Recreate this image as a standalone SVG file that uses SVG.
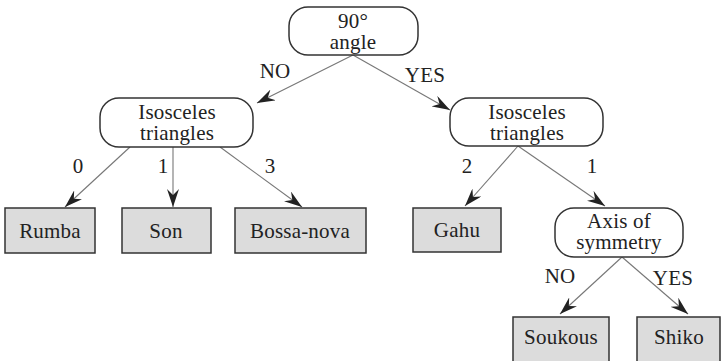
<svg xmlns="http://www.w3.org/2000/svg" width="725" height="361" viewBox="0 0 725 361">
<style>
text{font-family:"Liberation Serif","Times New Roman",serif;font-size:21px;fill:#222;text-anchor:middle;letter-spacing:0.2px}
.dec{fill:#fff;stroke:#333;stroke-width:1.5}
.leaf{fill:#dcdcdc;stroke:#333;stroke-width:1.5}
.edge{stroke:#777;stroke-width:1.1;fill:none;marker-end:url(#ah)}
</style>
<defs>
<marker id="ah" viewBox="0 0 18 12" markerWidth="18" markerHeight="12" markerUnits="userSpaceOnUse" refX="18" refY="6" orient="auto">
<path d="M0,0 L18,6 L0,12 L6,6 z" fill="#222"/>
</marker>
</defs>
<rect width="725" height="361" fill="#fff"/>
<g id="connectors">
<line class="edge" x1="353" y1="55" x2="257" y2="103"/>
<line class="edge" x1="353" y1="55" x2="450" y2="110"/>
<line class="edge" x1="130" y1="147" x2="65" y2="207"/>
<line class="edge" x1="173" y1="147" x2="173" y2="207"/>
<line class="edge" x1="220" y1="147" x2="302" y2="207"/>
<line class="edge" x1="518" y1="146" x2="465" y2="206"/>
<line class="edge" x1="518" y1="146" x2="605" y2="206"/>
<line class="edge" x1="622" y1="257" x2="560" y2="314"/>
<line class="edge" x1="622" y1="257" x2="688" y2="314"/>
<text x="275" y="78">NO</text>
<text x="425" y="82">YES</text>
<text x="78" y="173">0</text>
<text x="163" y="173">1</text>
<text x="270" y="173">3</text>
<text x="467" y="173">2</text>
<text x="592" y="173">1</text>
<text x="560" y="283">NO</text>
<text x="673" y="285">YES</text>
</g>
<g id="n-angle">
<rect class="dec" x="289" y="7" width="129" height="48" rx="19"/>
<text x="353" y="28">90°</text>
<text x="353" y="49">angle</text>
</g>
<g id="n-iso-left">
<rect class="dec" x="100" y="98" width="153" height="49" rx="19"/>
<text x="177" y="119">Isosceles</text>
<text x="177" y="140">triangles</text>
</g>
<g id="n-iso-right">
<rect class="dec" x="450" y="98" width="153" height="48" rx="19"/>
<text x="527" y="119">Isosceles</text>
<text x="527" y="140">triangles</text>
</g>
<g id="n-axis">
<rect class="dec" x="555" y="208" width="128" height="49" rx="19"/>
<text x="619" y="228">Axis of</text>
<text x="619" y="249">symmetry</text>
</g>
<g id="n-rumba">
<rect class="leaf" x="5" y="208" width="90" height="45"/>
<text x="50" y="238">Rumba</text>
</g>
<g id="n-son">
<rect class="leaf" x="122" y="208" width="89" height="45"/>
<text x="166" y="238">Son</text>
</g>
<g id="n-bossa">
<rect class="leaf" x="235" y="208" width="131" height="45"/>
<text x="300" y="238">Bossa-nova</text>
</g>
<g id="n-gahu">
<rect class="leaf" x="413" y="208" width="88" height="44"/>
<text x="457" y="237">Gahu</text>
</g>
<g id="n-soukous">
<rect class="leaf" x="513" y="317" width="96" height="46"/>
<text x="561" y="344">Soukous</text>
</g>
<g id="n-shiko">
<rect class="leaf" x="637" y="317" width="83" height="46"/>
<text x="679" y="344">Shiko</text>
</g>
</svg>
